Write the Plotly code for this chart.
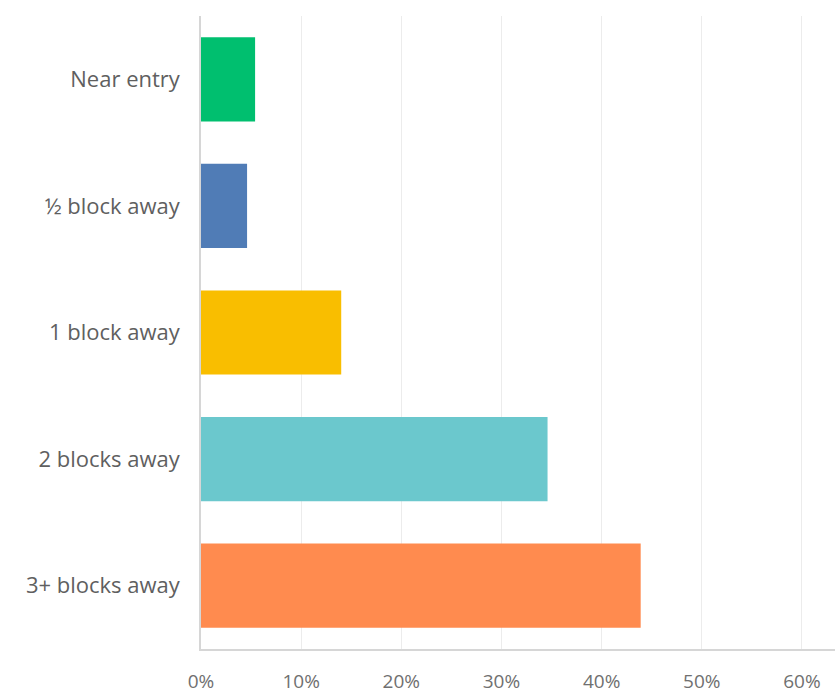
import plotly.graph_objects as go

# Survey answers, top to bottom
categories = ["Near entry", "½ block away", "1 block away", "2 blocks away", "3+ blocks away"]
shares = [5.4, 4.6, 14.0, 34.6, 43.9]  # percent of respondents
colors = ["#00BF6F", "#507CB6", "#F9BE00", "#6BC8CD", "#FF8B4F"]
tick_values = [0, 10, 20, 30, 40, 50, 60]
tick_labels = ["0%", "10%", "20%", "30%", "40%", "50%", "60%"]

fig = go.Figure(
    go.Bar(
        x=shares,
        y=categories,
        orientation="h",
        marker=dict(color=colors, line=dict(width=0)),
        hoverinfo="x+y",
    )
)

fig.update_layout(
    width=835,
    height=698,
    margin=dict(l=201, r=0, t=16, b=49),
    paper_bgcolor="white",
    plot_bgcolor="white",
    bargap=0.335,
    showlegend=False,
    font=dict(family="Open Sans, sans-serif", size=20, color="#666666"),
)

fig.update_xaxes(
    range=[0, 63.3],
    tickvals=tick_values,
    ticktext=tick_labels,
    showgrid=True,
    gridcolor="#ECECEC",
    gridwidth=1,
    zeroline=False,
    showline=True,
    linecolor="#D6D6D6",
    linewidth=1.5,
    ticks="",
    ticklabelstandoff=14,
    automargin=False,
    tickfont=dict(size=19, color="#707070"),
)

fig.update_yaxes(
    categoryorder="array",
    categoryarray=categories[::-1],
    showgrid=False,
    zeroline=False,
    showline=True,
    linecolor="#D6D6D6",
    linewidth=1.5,
    ticks="",
    ticklabelstandoff=15,
    automargin=False,
    tickfont=dict(size=22, color="#5f5f5f"),
)

fig.write_html("out.html")
